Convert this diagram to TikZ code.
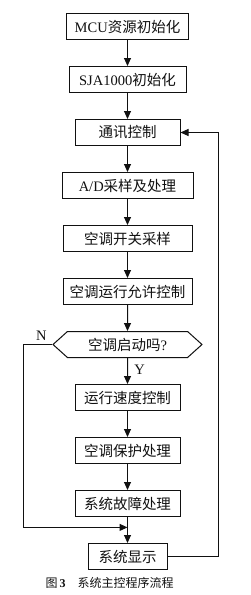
\documentclass[tikz,border=0pt]{standalone}
\usepackage{fontspec}
\setmainfont{Liberation Serif}
\newfontfamily\cjk{Noto Sans CJK SC}
\usepackage{tikz}
\usetikzlibrary{positioning,calc,shapes.symbols,arrows.meta}
\definecolor{Dark}{HTML}{111111}
\definecolor{Paper}{HTML}{FFFFFF}

\tikzset{
	stepbox/.style={
		draw=Dark,
		line width=1pt,
		minimum height=26pt,
		inner sep=2pt,
		text=Dark,
		font=\cjk\fontsize{14.5}{16}\selectfont
	},
	decision/.style={
		stepbox,
		signal,
		signal to=west and east,
		signal pointer angle=84,
		minimum width=149pt
	},
	flow/.style={
		draw=Dark,
		line width=1pt,
		-{Triangle[length=8pt,width=7pt]}
	},
	label/.style={
		text=Dark,
		font=\fontsize{14.5}{16}\selectfont
	}
}

\begin{document}
\begin{tikzpicture}[node distance=26pt]
	\useasboundingbox[fill=Paper] (0,0) rectangle (250pt,-595pt);
	
	% main column
	\node[stepbox, minimum width=122pt, anchor=north] (mcu) at (127.5pt,-13pt) {{\rmfamily MCU}资源初始化};
	\node[stepbox, minimum width=117pt, below=of mcu] (sja) {{\rmfamily SJA1000}初始化};
	\node[stepbox, minimum width=105pt, below=of sja] (comm) {通讯控制};
	\node[stepbox, minimum width=131pt, below=of comm] (adc) {{\rmfamily A/D}采样及处理};
	\node[stepbox, minimum width=129pt, below=of adc] (switch) {空调开关采样};
	\node[stepbox, minimum width=129pt, below=of switch] (permit) {空调运行允许控制};
	\node[decision, below=of permit] (start) {空调启动吗{\rmfamily ?}};
	\node[stepbox, minimum width=105pt, below=of start] (speed) {运行速度控制};
	\node[stepbox, minimum width=105pt, below=of speed] (protect) {空调保护处理};
	\node[stepbox, minimum width=105pt, below=of protect] (fault) {系统故障处理};
	\node[stepbox, minimum width=79pt, below=of fault] (disp) {系统显示};
	
	% helper points for the loops
	\coordinate (merge) at ($(fault.south)!0.4!(disp.north)$);
	\coordinate (lloop) at (23pt,0);
	\coordinate (rloop) at (218pt,0);
	
	\draw[flow] (mcu) -- (sja);
	\draw[flow] (sja) -- (comm);
	\draw[flow] (comm) -- (adc);
	\draw[flow] (adc) -- (switch);
	\draw[flow] (switch) -- (permit);
	\draw[flow] (permit) -- (start);
	\draw[flow] (start) -- node[label, right=3pt, pos=0.45] (yes) {Y} (speed);
	\draw[flow] (speed) -- (protect);
	\draw[flow] (protect) -- (fault);
	\draw[flow] (fault) -- (disp);
	
	% N branch and return loop
	\draw[flow] (start.west) -- node[label, above=0pt, pos=0.37] (no) {N} (start.west -| lloop) |- (merge);
	\draw[flow] (disp.east) -- (disp.east -| rloop) |- (comm.east);
	
	\node[text=Dark, font=\cjk\fontsize{12}{14}\selectfont] (caption) at (109.5pt,-583pt)
		{图\,{\rmfamily\bfseries 3}\hspace{12pt}系统主控程序流程};
\end{tikzpicture}
\end{document}
